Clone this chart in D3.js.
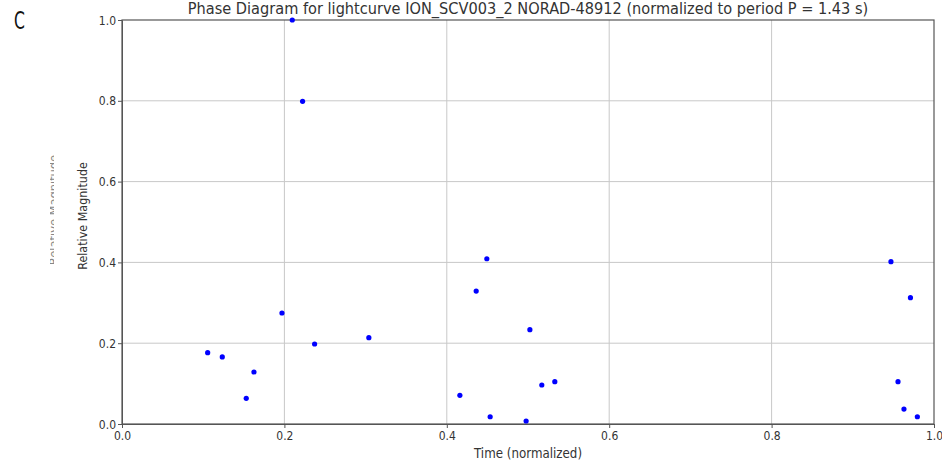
<!DOCTYPE html>
<html>
<head>
<meta charset="utf-8">
<script src="https://cdn.jsdelivr.net/npm/d3@7"></script>
<style>
  body { margin: 0; background: #fff; }
  text { font-family: "DejaVu Sans", sans-serif; fill: #333; }
</style>
</head>
<body>
<div id="chart"></div>
<script>
// phase values
const phase = [0.1055, 0.1235, 0.1625, 0.153, 0.197, 0.2372, 0.304, 0.2097, 0.2224,
               0.4493, 0.4362, 0.5023, 0.517, 0.533, 0.4161, 0.4534, 0.4977,
               0.947, 0.971, 0.9557, 0.963, 0.9795]
const mag = [0.1765, 0.166, 0.1287, 0.0636, 0.2748, 0.198, 0.2137, 1.0, 0.7987,
             0.409, 0.329, 0.2335, 0.0965, 0.1048, 0.071, 0.018, 0.0074,
             0.4018, 0.3127, 0.1048, 0.037, 0.018]
const xTicks = [0, 0.2, 0.4, 0.6, 0.8, 1.0]
const yTicks = [0, 0.2, 0.4, 0.6, 0.8, 1.0]
const title = "Phase Diagram for lightcurve ION_SCV003_2 NORAD-48912 (normalized to period P = 1.43 s)"

const W = 942, H = 463
const margin = {top: 20, right: 8, bottom: 39, left: 122}
const sx = 0.83 // glyphs in the picture are a bit narrow

const svg = d3.select("#chart").append("svg")
    .attr("width", W).attr("height", H)

const x = d3.scaleLinear().domain([0, 1]).range([margin.left, W - margin.right])
const y = d3.scaleLinear().domain([0, 1]).range([H - margin.bottom, margin.top])

// grid
svg.append("g").selectAll("line").data(xTicks.slice(1, -1)).join("line")
    .attr("x1", d => x(d)).attr("x2", d => x(d))
    .attr("y1", y(0)).attr("y2", y(1))
    .attr("stroke", "#c8c8c8").attr("stroke-width", 1)
svg.append("g").selectAll("line").data(yTicks.slice(1, -1)).join("line")
    .attr("x1", x(0)).attr("x2", x(1))
    .attr("y1", d => y(d)).attr("y2", d => y(d))
    .attr("stroke", "#c8c8c8").attr("stroke-width", 1)

// axes
const xAxis = svg.append("g")
    .attr("transform", `translate(0,${y(0)})`)
    .call(d3.axisBottom(x).tickValues(xTicks).tickFormat(d3.format(".1f")).tickSize(4).tickSizeOuter(0))
xAxis.selectAll("text").attr("y", 7).attr("transform", `scale(${sx},1)`)
    .style("font-size", "13px").style("fill", "#333")

const yAxis = svg.append("g")
    .attr("transform", `translate(${x(0)},0)`)
    .call(d3.axisLeft(y).tickValues(yTicks).tickFormat(d3.format(".1f")).tickSize(4).tickSizeOuter(0))
yAxis.selectAll("text").attr("x", -6 / sx).attr("transform", `scale(${sx},1)`)
    .style("font-size", "13px").style("fill", "#333")

svg.selectAll(".domain").attr("stroke", "#555")
svg.selectAll(".tick line").attr("stroke", "#555")

// frame
svg.append("rect")
    .attr("x", x(0)).attr("y", y(1))
    .attr("width", x(1) - x(0)).attr("height", y(0) - y(1))
    .attr("fill", "none").attr("stroke", "#555").attr("stroke-width", 1.2)

// points
svg.append("g").selectAll("circle").data(phase).join("circle")
    .attr("cx", d => x(d))
    .attr("cy", (d, i) => y(mag[i]))
    .attr("r", 2.6)
    .attr("fill", "#0000ff")

// title
svg.append("text")
    .attr("transform", `translate(${(x(0) + x(1)) / 2},13.5) scale(0.91,1)`)
    .attr("text-anchor", "middle")
    .style("font-size", "16px")
    .text(title)

// axis labels
svg.append("text")
    .attr("transform", `translate(${(x(0) + x(1)) / 2},458) scale(0.88,1)`)
    .attr("text-anchor", "middle")
    .style("font-size", "13.5px")
    .text("Time (normalized)")

svg.append("text")
    .attr("transform", `translate(87,216) rotate(-90) scale(0.86,1)`)
    .attr("text-anchor", "middle")
    .style("font-size", "13px")
    .text("Relative Magnitude")

// faint clipped copy of the y label at the far left
svg.append("clipPath").attr("id", "ghost")
    .append("rect").attr("x", 50).attr("y", 140).attr("width", 4).attr("height", 140)
svg.append("g").attr("clip-path", "url(#ghost)")
    .append("text")
    .attr("transform", `translate(58,210) rotate(-90) scale(0.88,1)`)
    .attr("text-anchor", "middle")
    .style("font-size", "13px").style("fill", "#888")
    .text("Relative Magnitude")

// panel letter
svg.append("text")
    .attr("transform", `translate(14,29) scale(0.65,1)`)
    .style("font-size", "24px").style("fill", "#111")
    .text("C")
</script>
</body>
</html>
